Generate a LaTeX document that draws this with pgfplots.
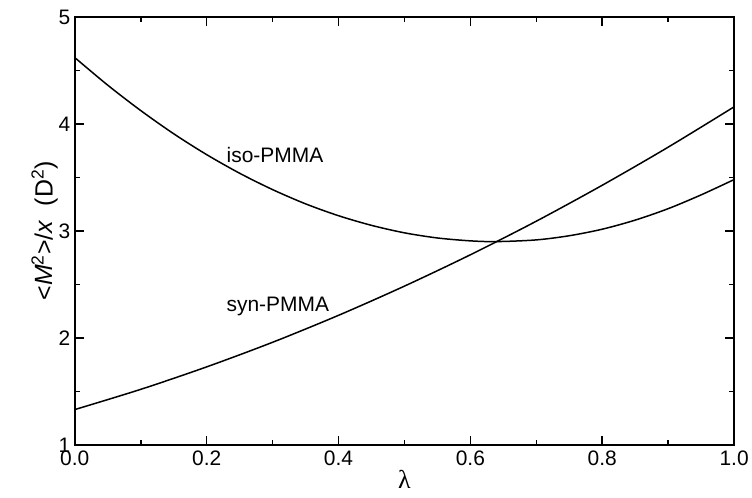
\documentclass[border=0pt]{standalone}
\usepackage{pgfplots}
\pgfplotsset{compat=1.18}
\usepackage{fontspec}
\setmainfont{Liberation Sans}
\newfontfamily\serifgreek{Liberation Serif}
\begin{document}
\begin{tikzpicture}
\path (-75pt,-53pt) rectangle (677pt,446pt);
\begin{axis}[
  scale only axis,
  width=661pt, height=429pt,
  xmin=0, xmax=1, ymin=1, ymax=5,
  xtick={0,0.2,0.4,0.6,0.8,1.0},
  minor xtick={0.1,0.3,0.5,0.7,0.9},
  ytick={1,2,3,4,5},
  minor ytick={1.5,2.5,3.5,4.5},
  tick align=inside,
  major tick length=9pt,
  minor tick length=5pt,
  axis line style={line width=1.6pt},
  every tick/.style={line width=1.6pt, black},
  /pgf/number format/assume math mode=true,
  xticklabel style={/pgf/number format/fixed, /pgf/number format/fixed zerofill, /pgf/number format/precision=1, font=\fontsize{21}{23}\selectfont, yshift=-2pt},
  yticklabel style={font=\fontsize{21}{23}\selectfont, xshift=-1pt},
  xlabel={\serifgreek λ},
  xlabel style={font=\fontsize{26}{28}\selectfont, yshift=2pt},
  ylabel={\textless\textit{M}\textsuperscript{2}\textgreater/\textit{x}\ \ (D\textsuperscript{2})},
  ylabel style={font=\fontsize{25}{27}\selectfont, yshift=-6pt},
]
\addplot[black, line width=1.5pt, smooth] coordinates {
(0,4.62) (0.05,4.362) (0.1,4.125) (0.15,3.908) (0.2,3.713) (0.25,3.539)
(0.3,3.386) (0.35,3.253) (0.4,3.142) (0.45,3.052) (0.5,2.982) (0.55,2.934)
(0.6,2.907) (0.64,2.900) (0.7,2.916) (0.75,2.955) (0.8,3.016) (0.85,3.101)
(0.9,3.208) (0.95,3.337) (1.0,3.48)
};
\addplot[black, line width=1.5pt, smooth] coordinates {
(0,1.33) (0.1,1.519) (0.2,1.729) (0.3,1.959) (0.4,2.211) (0.5,2.484)
(0.6,2.777) (0.7,3.091) (0.8,3.427) (0.9,3.783) (1.0,4.16)
};
\node[anchor=west, font=\fontsize{21}{23}\selectfont, inner sep=0pt] at (axis cs:0.230,3.71) {iso-PMMA};
\node[anchor=west, font=\fontsize{21}{23}\selectfont, inner sep=0pt] at (axis cs:0.230,2.29) {syn-PMMA};
\end{axis}
\end{tikzpicture}
\end{document}
